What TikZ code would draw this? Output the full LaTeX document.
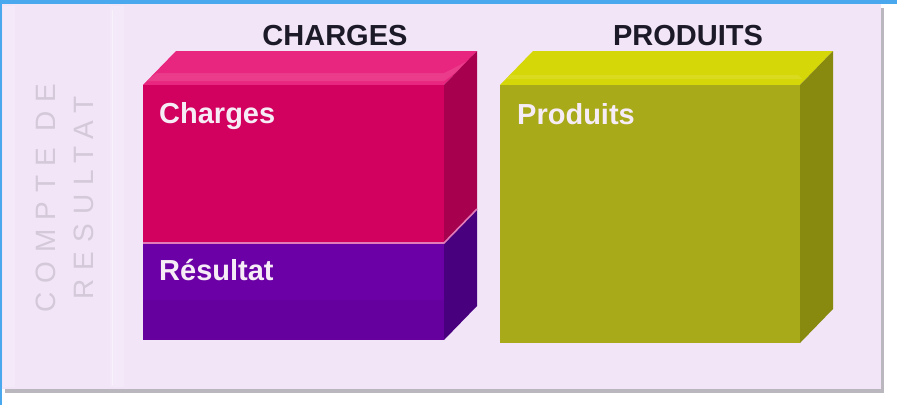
\documentclass[tikz,border=0pt]{standalone}
\usepackage{fontspec}
\setmainfont{Liberation Sans}
\usetikzlibrary{calc}
\definecolor{topblue}{HTML}{4AA8EE}
\definecolor{panel}{HTML}{F2E5F8}
\definecolor{panelstrip}{HTML}{F4E9F9}
\definecolor{panelshadow}{HTML}{9C98A4}
\definecolor{vtext}{HTML}{D3C9D8}
\definecolor{headtext}{HTML}{1C1A28}
\definecolor{labeltext}{HTML}{F6ECF6}
\definecolor{chfront}{HTML}{D2005E}
\definecolor{chtop}{HTML}{E9267F}
\definecolor{chside}{HTML}{A6004F}
\definecolor{refront}{HTML}{6A00A6}
\definecolor{reside}{HTML}{48007F}
\definecolor{divline}{HTML}{E37BB8}
\definecolor{prfront}{HTML}{A8AA1A}
\definecolor{prtop}{HTML}{D6D708}
\definecolor{prside}{HTML}{888A10}
\tikzset{
  header/.style={font=\bfseries\fontsize{29}{30}\selectfont, text=headtext, inner sep=0pt, anchor=base},
  boxlabel/.style={font=\bfseries\fontsize{29}{30}\selectfont, text=labeltext, inner sep=0pt, anchor=base west},
  vlabel/.style={font=\addfontfeatures{LetterSpace=32}\fontsize{28}{29}\selectfont, text=vtext, inner sep=0pt, rotate=90, anchor=base},
}
\begin{document}
\begin{tikzpicture}[x=1pt,y=-1pt]
\useasboundingbox (0,0) rectangle (897,405);
\fill[white] (0,0) rectangle (897,405);
% panel with shadow
\fill[panelshadow!70] (5,8) rectangle (884,393);
\fill[panel] (1,4) rectangle (881,389);
\fill[panelstrip] (3,6) rectangle (15,387);
\fill[panelstrip] (110,6) rectangle (124,387);
\draw[panelstrip!60!white, line width=1pt] (112,10) -- (112,385);
% top blue bar and left edge
\fill[topblue] (0,0) rectangle (897,4);
\fill[topblue] (0,0) rectangle (1.5,405);

% vertical label
\node[vlabel] (vt1) at (55,198) {COMPTE DE};
\node[vlabel] (vt2) at (93,198) {RESULTAT};

% headers
\node[header] (hc) at (335,45) {CHARGES};
\node[header] (hp) at (688,45) {PRODUITS};

% Charges box
\coordinate (cfa) at (143,85);
\coordinate (cfb) at (444,85);
\coordinate (cfc) at (444,340);
\coordinate (cfd) at (143,340);
\coordinate (cm1) at (143,243);
\coordinate (cm2) at (444,243);
\coordinate (d) at (33,-34);
\fill[chtop] (cfa) -- ($(cfa)+(d)$) -- ($(cfb)+(d)$) -- (cfb) -- cycle;
\fill[chtop!90!white] ($(cfa)+(4,-4)$) -- ($(cfa)+(d)+(0,6)$) -- ($(cfb)+(d)+(0,6)$) -- ($(cfb)+(0,-4)$) -- cycle;
\fill[chtop] ($(cfa)+(12,-12)$) -- ($(cfa)+(d)+(0,5)$) -- ($(cfb)+(d)+(0,5)$) -- ($(cfb)+(0,-12)$) -- cycle;
\fill[chside] (cfb) -- ($(cfb)+(d)$) -- ($(cm2)+(d)$) -- (cm2) -- cycle;
\fill[reside] (cm2) -- ($(cm2)+(d)$) -- ($(cfc)+(d)$) -- (cfc) -- cycle;
\fill[chfront] (cfa) rectangle (cm2);
\fill[refront] (cm1) rectangle (cfc);
\fill[refront!85!black, opacity=0.3] (143,300) rectangle (444,340);
\draw[divline, line width=1.6pt] (cm1) -- (cm2) -- ($(cm2)+(d)$);

% Produits box
\coordinate (pfa) at (500,85);
\coordinate (pfb) at (800,85);
\coordinate (pfc) at (800,343);
\coordinate (pfd) at (500,343);
\fill[prtop] (pfa) -- ($(pfa)+(d)$) -- ($(pfb)+(d)$) -- (pfb) -- cycle;
\fill[prtop!90!white] ($(pfa)+(6,-6)$) -- ($(pfa)+(10,-10)$) -- ($(pfb)+(-2,-10)$) -- ($(pfb)+(2,-6)$) -- cycle;
\fill[prside] (pfb) -- ($(pfb)+(d)$) -- ($(pfc)+(d)$) -- (pfc) -- cycle;
\fill[prfront] (pfa) rectangle (pfc);

% labels
\node[boxlabel] (lc) at (159,123) {Charges};
\node[boxlabel] (lr) at (159,280) {Résultat};
\node[boxlabel] (lp) at (517,124) {Produits};
\end{tikzpicture}
\end{document}
